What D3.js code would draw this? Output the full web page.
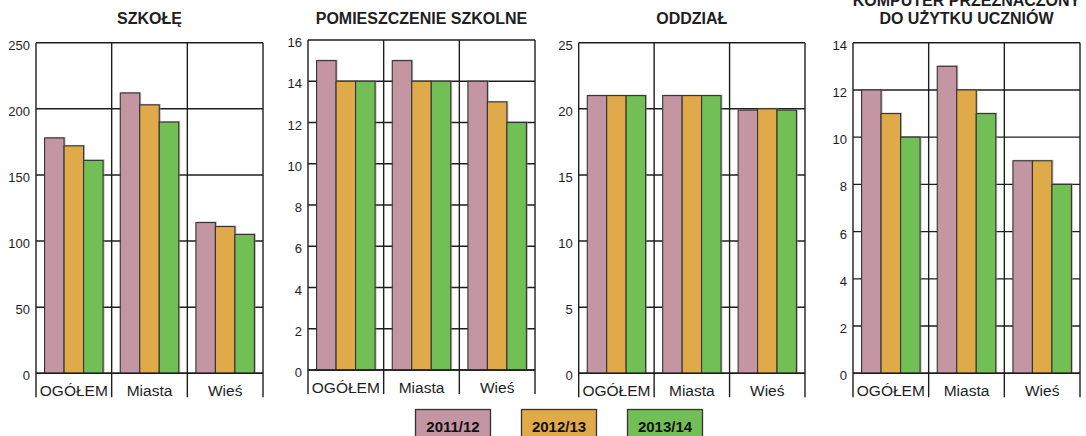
<!DOCTYPE html>
<html><head><meta charset="utf-8">
<script src="https://cdn.jsdelivr.net/npm/d3@7"></script>
<style>body{margin:0;background:#fff}svg{display:block}</style>
</head><body>
<svg id="c" width="1086" height="436"></svg>
<script>
// ---- data ----
const categories = ["OGÓŁEM", "Miasta", "Wieś"];
const series = ["2011/12", "2012/13", "2013/14"];
const colors = ["#C495A3", "#E0AA4B", "#72BF55"];
const titles = [["SZKOŁĘ"], ["POMIESZCZENIE SZKOLNE"], ["ODDZIAŁ"], ["KOMPUTER PRZEZNACZONY", "DO UŻYTKU UCZNIÓW"]];
const szkole = [[178, 172, 161], [212, 203, 190], [114, 111, 105]];
const pomieszczenie = [[15, 14, 14], [15, 14, 14], [14, 13, 12]];
const oddzial = [[21, 21, 21], [21, 21, 21], [19.9, 20, 19.9]];
const komputer = [[12, 11, 10], [13, 12, 11], [9, 9, 8]];
const yMax = [250, 16, 25, 14];
const yStep = [50, 2, 5, 2];
const panelData = [szkole, pomieszczenie, oddzial, komputer];

// ---- layout ----
const layout = [
  {x0: 36, x1: 263, top: 42.7, bottom: 373.3},
  {x0: 308, x1: 535, top: 40, bottom: 370},
  {x0: 578.7, x1: 805, top: 42.7, bottom: 373.3},
  {x0: 853, x1: 1080, top: 42.7, bottom: 373.3}
];
const ink = "#1e1e1e";
const FONT = "'Liberation Sans', Arial, sans-serif";
const svg = d3.select("#c");

panelData.forEach((data, p) => {
  const L = layout[p];
  const g = svg.append("g");
  const x = d3.scaleBand().domain(categories).range([L.x0, L.x1]).padding(0);
  const xs = d3.scaleBand().domain(series).range([0, x.bandwidth()]).paddingInner(0).paddingOuter(0.44);
  const y = d3.scaleLinear().domain([0, yMax[p]]).range([L.bottom, L.top]);
  const ticks = d3.range(0, yMax[p] + yStep[p] / 2, yStep[p]);

  // gridlines
  g.selectAll("line.grid").data(ticks).join("line")
    .attr("x1", L.x0).attr("x2", L.x1)
    .attr("y1", d => y(d)).attr("y2", d => y(d))
    .attr("stroke", ink).attr("stroke-width", 1.4);

  // y tick labels
  g.selectAll("text.yt").data(ticks).join("text")
    .attr("x", L.x0 - 6).attr("y", d => y(d) + 7)
    .attr("text-anchor", "end")
    .attr("font-family", FONT)
    .attr("font-size", 13).attr("fill", ink)
    .text(d => d);

  // bars
  categories.forEach((c, ci) => {
    series.forEach((s, si) => {
      const v = data[ci][si];
      const bx = x(c) + xs(s);
      g.append("rect")
        .attr("x", bx + 1.5).attr("y", y(v) - 1)
        .attr("width", xs.bandwidth()).attr("height", y(0) - y(v) + 1)
        .attr("fill", "#8a8a8a").attr("opacity", 0.55);
    });
    series.forEach((s, si) => {
      const v = data[ci][si];
      const bx = x(c) + xs(s);
      g.append("rect")
        .attr("x", bx).attr("y", y(v))
        .attr("width", xs.bandwidth()).attr("height", y(0) - y(v))
        .attr("fill", colors[si]).attr("stroke", "#333").attr("stroke-width", 1.1);
    });
  });

  // vertical lines (frame + separators), extending below baseline
  const vx = categories.map(c => x(c)).concat([L.x1]);
  g.selectAll("line.v").data(vx).join("line")
    .attr("x1", d => d).attr("x2", d => d)
    .attr("y1", L.top).attr("y2", L.bottom + 24)
    .attr("stroke", ink).attr("stroke-width", 1.4);
  g.append("line").attr("x1", L.x0).attr("x2", L.x1).attr("y1", y(0)).attr("y2", y(0))
    .attr("stroke", ink).attr("stroke-width", 1.4);

  // category labels
  g.selectAll("text.cat").data(categories).join("text")
    .attr("x", d => x(d) + x.bandwidth() / 2).attr("y", L.bottom + 23)
    .attr("text-anchor", "middle")
    .attr("font-family", FONT)
    .attr("font-size", 15.5).attr("fill", ink)
    .text(d => d);

  // title
  const lines = titles[p];
  const cx = (L.x0 + L.x1) / 2;
  lines.forEach((t, i) => {
    g.append("text")
      .attr("x", cx).attr("y", 24 - (lines.length - 1 - i) * 18.5)
      .attr("text-anchor", "middle")
      .attr("font-family", FONT)
      .attr("font-weight", "bold").attr("font-size", 16).attr("fill", ink)
      .text(t);
  });
});

// legend
const lx = d3.scalePoint().domain(series).range([453, 665]);
const lg = svg.append("g");
series.forEach((s, i) => {
  lg.append("rect")
    .attr("x", lx(s) - 37.5).attr("y", 409.5).attr("width", 75).attr("height", 40)
    .attr("fill", colors[i]).attr("stroke", "#333").attr("stroke-width", 1.3);
  lg.append("text")
    .attr("x", lx(s)).attr("y", 431.5).attr("text-anchor", "middle")
    .attr("font-family", FONT)
    .attr("font-weight", "bold").attr("font-size", 15).attr("fill", "#111")
    .text(s);
});
</script>
</body></html>
